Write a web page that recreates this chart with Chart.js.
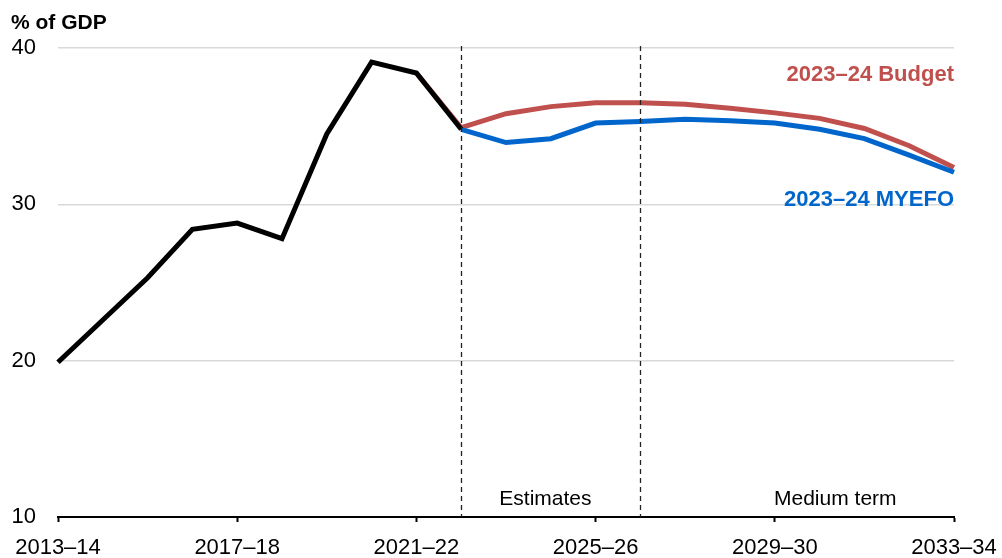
<!DOCTYPE html>
<html>
<head>
<meta charset="utf-8">
<script src="https://cdn.jsdelivr.net/npm/chart.js@4/dist/chart.umd.min.js"></script>
<style>
html,body{margin:0;padding:0;background:#fff;}
#wrap{width:1002px;height:558px;position:relative;}
</style>
</head>
<body>
<div id="wrap"><canvas id="c" width="1002" height="558"></canvas></div>
<script>
const categories = ["2013–14","2014–15","2015–16","2016–17","2017–18","2018–19","2019–20","2020–21","2021–22","2022–23","2023–24","2024–25","2025–26","2026–27","2027–28","2028–29","2029–30","2030–31","2031–32","2032–33","2033–34"];
const tickLabels = ["2013–14","2017–18","2021–22","2025–26","2029–30","2033–34"];
const actual = [19.9,22.6,25.3,28.4,28.8,27.8,34.5,39.1,38.4,34.8,null,null,null,null,null,null,null,null,null,null,null];
const budget = [null,null,null,null,null,null,null,null,38.4,34.9,35.8,36.25,36.5,36.5,36.4,36.15,35.85,35.5,34.85,33.75,32.35];
const myefo = [null,null,null,null,null,null,null,null,null,34.8,33.95,34.2,35.2,35.3,35.45,35.35,35.2,34.8,34.2,33.15,32.05];
const yTicks = [10,20,30,40];
const dividers = ["2022–23","2026–27"];

const RED = '#C0504D', BLUE = '#0066CC';
const FONT = '"Liberation Sans", Arial, sans-serif';

const overlay = {
  id: 'overlay',
  afterDatasetsDraw(chart) {
    const ctx = chart.ctx, x = chart.scales.x, y = chart.scales.y, a = chart.chartArea;
    ctx.save();
    ctx.strokeStyle = '#222';
    ctx.lineWidth = 1.3;
    ctx.setLineDash([5,4]);
    dividers.forEach(d => {
      const px = Math.round(x.getPixelForValue(categories.indexOf(d))) + 0.5;
      ctx.beginPath(); ctx.moveTo(px, a.top - 2); ctx.lineTo(px, a.bottom); ctx.stroke();
    });
    ctx.setLineDash([]);
    ctx.fillStyle = '#000';
    ctx.font = '21px ' + FONT;
    ctx.textAlign = 'center'; ctx.textBaseline = 'middle';
    ctx.fillText('Estimates', x.getPixelForValue(10.88), 499);
    ctx.fillText('Medium term', x.getPixelForValue(17.35), 499);
    ctx.font = 'bold 22px ' + FONT;
    ctx.textAlign = 'right';
    ctx.fillStyle = RED;
    ctx.fillText('2023–24 Budget', a.right, y.getPixelForValue(38.25));
    ctx.fillStyle = BLUE;
    ctx.fillText('2023–24 MYEFO', a.right, y.getPixelForValue(30.3));
    ctx.fillStyle = '#000';
    ctx.textAlign = 'left';
    ctx.font = 'bold 21px ' + FONT;
    ctx.fillText('% of GDP', 11, 23);
    ctx.restore();
  }
};

new Chart(document.getElementById('c'), {
  type: 'line',
  data: {
    labels: categories,
    datasets: [
      {label:'Actual', data: actual, borderColor:'#000', borderWidth:5, pointRadius:0, tension:0},
      {label:'2023–24 MYEFO', data: myefo, borderColor:BLUE, borderWidth:5, pointRadius:0, tension:0},
      {label:'2023–24 Budget', data: budget, borderColor:RED, borderWidth:5, pointRadius:0, tension:0}
    ]
  },
  options: {
    responsive: false,
    animation: false,
    devicePixelRatio: 1,
    layout: {padding: {top: 48, right: 48, left: 0, bottom: 0}},
    plugins: {legend: {display:false}, tooltip: {enabled:false}},
    scales: {
      x: {
        type: 'category',
        offset: false,
        border: {display:true, color:'#000', width:2},
        grid: {
          drawOnChartArea: false, drawTicks: true, tickLength: 5,
          tickColor: (c) => (c.tick && tickLabels.includes(categories[c.index])) ? '#000' : 'rgba(0,0,0,0)',
          tickWidth: 2
        },
        ticks: {
          autoSkip: false, maxRotation: 0, minRotation: 0, padding: 13,
          color: '#000', font: {family: FONT, size: 22},
          callback: (v, i) => tickLabels.includes(categories[i]) ? categories[i] : ''
        },
        afterFit: (s) => { s.height = 41; s.paddingLeft = 0; s.paddingRight = 0; }
      },
      y: {
        min: 10, max: 40,
        afterBuildTicks: (s) => { s.ticks = yTicks.map(v => ({value: v})); },
        border: {display:false},
        grid: {
          color: (c) => c.tick && c.tick.value === 10 ? 'rgba(0,0,0,0)' : '#d9d9d9',
          lineWidth: 1.5, drawTicks: false
        },
        ticks: {color:'#000', padding: 22, font: {family: FONT, size: 22}},
        afterFit: (s) => { s.width = 58; }
      }
    }
  },
  plugins: [overlay]
});
</script>
</body>
</html>
